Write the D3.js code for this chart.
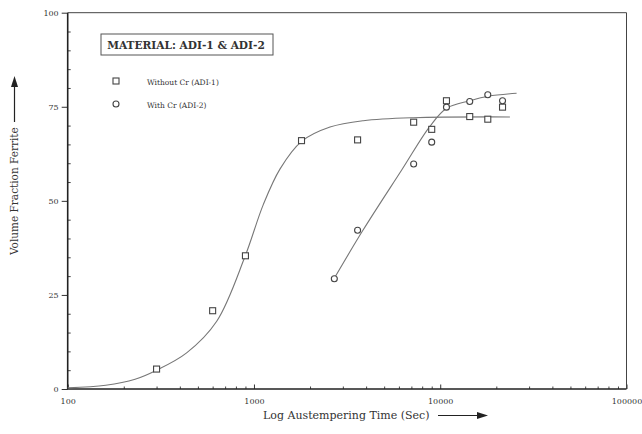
<!DOCTYPE html>
<html>
  <head>
    <meta charset="utf-8">
    <script src="https://d3js.org/d3.v7.min.js" charset="utf-8"></script>
    <style>
      body { margin: 0; background: #fff; }
      text { font-family: "DejaVu Serif", "Liberation Serif", serif; fill: #333; }
    </style>
  </head>
  <body>
    <script type="text/javascript">

// measured points
var adi1Time = [300, 600, 900, 1800, 3600, 7200, 9000, 10800, 14400, 18000, 21600];
var adi1Vf   = [5.3, 20.8, 35.4, 66.0, 66.2, 70.9, 69.0, 76.6, 72.4, 71.7, 74.9];

var adi2Time = [2700, 3600, 7200, 9000, 10800, 14400, 18000, 21600];
var adi2Vf   = [29.3, 42.2, 59.8, 65.6, 74.9, 76.4, 78.2, 76.6];

// fitted curves
var fit1Time = [100, 160, 230, 300, 435, 631, 895, 1122, 1381, 1803, 2560, 3865, 7160, 23660];
var fit1Vf   = [0.3, 1.0, 2.6, 5.0, 9.6, 18.0, 35.2, 49.0, 58.5, 65.8, 69.6, 71.3, 72.1, 72.3];

var fit2Time = [2690, 3860, 6210, 8800, 10820, 14430, 18100, 25700];
var fit2Vf   = [29.3, 42.3, 58.2, 69.8, 74.6, 76.6, 77.8, 78.6];

var xTicks = [100, 1000, 10000, 100000];
var yTicks = [0, 25, 50, 75, 100];

var legendTitle = "MATERIAL: ADI-1 & ADI-2";
var legendNames = ["Without Cr (ADI-1)", "With Cr (ADI-2)"];

var w = 642;
var h = 434;
var pl = 67.7, pr = 626.5, pt = 12.7, pb = 389;

var x = d3.scaleLog().domain([100, 100000]).range([pl, pr]);
var y = d3.scaleLinear().domain([0, 100]).range([pb, pt]);

var svg =
  d3.select("body")
    .append("svg")
    .attr("width", w)
    .attr("height", h);

// minor ticks
var xMinor = [];
[100, 1000, 10000].forEach(function(d) {
  for (var k = 2; k <= 9; k++) xMinor.push(d * k);
});
var yMinor = d3.range(5, 100, 5).filter(function(d) { return d % 25 != 0; });

svg.append("g")
    .attr("transform", "translate(0," + pb + ")")
    .call(d3.axisBottom(x).tickValues(xMinor).tickSize(-2.5).tickFormat(""))
    .call(function(g) { g.select(".domain").remove(); g.selectAll("line").attr("stroke", "#444"); });

svg.append("g")
    .attr("transform", "translate(" + pl + ",0)")
    .call(d3.axisLeft(y).tickValues(yMinor).tickSize(-3).tickFormat(""))
    .call(function(g) { g.select(".domain").remove(); g.selectAll("line").attr("stroke", "#444"); });

// major axes
var xAxis = svg.append("g")
    .attr("transform", "translate(0," + pb + ")")
    .call(d3.axisBottom(x).tickValues(xTicks).tickSize(-4.5).tickPadding(9).tickFormat(d3.format("d")));
xAxis.select(".domain").remove();
xAxis.selectAll("line").attr("stroke", "#333");
xAxis.selectAll("text").style("font-size", "8px").attr("fill", "#333");

var yAxis = svg.append("g")
    .attr("transform", "translate(" + pl + ",0)")
    .call(d3.axisLeft(y).tickValues(yTicks).tickSize(6).tickPadding(3));
yAxis.select(".domain").remove();
yAxis.selectAll("line").attr("stroke", "#333");
yAxis.selectAll("text").style("font-size", "8px").attr("fill", "#333");

// frame
svg.append("path")
    .attr("d", "M" + pl + "," + pt + "H" + pr + "V" + pb)
    .attr("fill", "none")
    .attr("stroke", "#444")
    .attr("stroke-width", 1);
svg.append("path")
    .attr("d", "M" + pl + "," + pt + "V" + pb + "H" + pr)
    .attr("fill", "none")
    .attr("stroke", "#222")
    .attr("stroke-width", 1.6);

// curves
var line = d3.line()
    .x(function(d) { return x(d[0]); })
    .y(function(d) { return y(d[1]); })
    .curve(d3.curveCatmullRom.alpha(0.5));

svg.append("path")
    .datum(d3.zip(fit1Time, fit1Vf))
    .attr("d", line)
    .attr("fill", "none")
    .attr("stroke", "#777")
    .attr("stroke-width", 1.1);

svg.append("path")
    .datum(d3.zip(fit2Time, fit2Vf))
    .attr("d", line)
    .attr("fill", "none")
    .attr("stroke", "#777")
    .attr("stroke-width", 1.1);

// markers
var sq = 6;
svg.selectAll("rect.adi1")
    .data(d3.zip(adi1Time, adi1Vf))
    .enter()
    .append("rect")
    .attr("class", "adi1")
    .attr("x", function(d) { return x(d[0]) - sq / 2; })
    .attr("y", function(d) { return y(d[1]) - sq / 2; })
    .attr("width", sq)
    .attr("height", sq)
    .attr("fill", "#fff")
    .attr("stroke", "#444")
    .attr("stroke-width", 1.1);

svg.selectAll("circle.adi2")
    .data(d3.zip(adi2Time, adi2Vf))
    .enter()
    .append("circle")
    .attr("class", "adi2")
    .attr("cx", function(d) { return x(d[0]); })
    .attr("cy", function(d) { return y(d[1]); })
    .attr("r", 3)
    .attr("fill", "#fff")
    .attr("stroke", "#444")
    .attr("stroke-width", 1.1);

// legend
svg.append("rect")
    .attr("x", 101)
    .attr("y", 34)
    .attr("width", 172)
    .attr("height", 21)
    .attr("fill", "#fff")
    .attr("stroke", "#555")
    .attr("stroke-width", 1);
svg.append("text")
    .attr("x", 186)
    .attr("y", 48.5)
    .attr("text-anchor", "middle")
    .style("font-size", "10.6px")
    .style("font-weight", "bold")
    .attr("fill", "#222")
    .text(legendTitle);

svg.append("rect")
    .attr("x", 116 - sq / 2)
    .attr("y", 81 - sq / 2)
    .attr("width", sq)
    .attr("height", sq)
    .attr("fill", "#fff")
    .attr("stroke", "#444")
    .attr("stroke-width", 1.1);
svg.append("circle")
    .attr("cx", 116)
    .attr("cy", 104)
    .attr("r", 3)
    .attr("fill", "#fff")
    .attr("stroke", "#444")
    .attr("stroke-width", 1.1);
svg.selectAll("text.leg")
    .data(legendNames)
    .enter()
    .append("text")
    .attr("class", "leg")
    .attr("x", 147)
    .attr("y", function(d, i) { return 84.5 + i * 23; })
    .style("font-size", "7.5px")
    .text(function(d) { return d; });

// axis titles
svg.append("text")
    .attr("x", 263)
    .attr("y", 419)
    .style("font-size", "11px")
    .attr("fill", "#222")
    .text("Log Austempering Time (Sec)");
svg.append("line")
    .attr("x1", 438).attr("y1", 415.5)
    .attr("x2", 478).attr("y2", 415.5)
    .attr("stroke", "#222")
    .attr("stroke-width", 1.2);
svg.append("path")
    .attr("d", "M477,412L488,415.5L477,419Z")
    .attr("fill", "#222");

svg.append("text")
    .attr("transform", "translate(18,255) rotate(-90)")
    .style("font-size", "10.5px")
    .attr("fill", "#222")
    .text("Volume Fraction Ferrite");
svg.append("line")
    .attr("x1", 14.5).attr("y1", 122)
    .attr("x2", 14.5).attr("y2", 86)
    .attr("stroke", "#222")
    .attr("stroke-width", 1.2);
svg.append("path")
    .attr("d", "M11,87L14.5,76L18,87Z")
    .attr("fill", "#222");

    </script>
  </body>
</html>
